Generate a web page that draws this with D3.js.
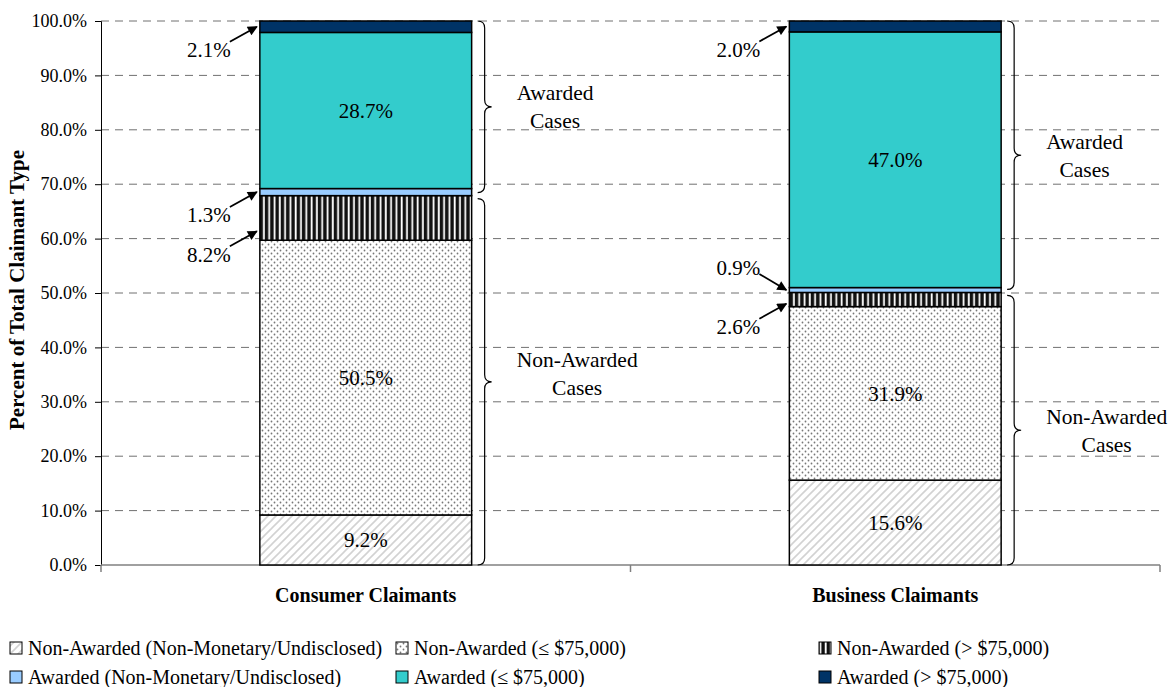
<!DOCTYPE html>
<html>
<head>
<meta charset="UTF-8">
<script src="https://cdn.jsdelivr.net/npm/d3@7"></script>
<style>
  body { margin: 0; background: #fff; }
  svg text { font-family: "Liberation Serif", "Times New Roman", serif; fill: #000; }
</style>
</head>
<body>
<div id="chart"></div>
<script>
// data
var categories = ["Consumer Claimants", "Business Claimants"];
var seriesKeys = ["nonNone", "nonLow", "nonHigh", "awNone", "awLow", "awHigh"];
var seriesNames = [
  "Non-Awarded (Non-Monetary/Undisclosed)",
  "Non-Awarded (\u2264 $75,000)",
  "Non-Awarded (> $75,000)",
  "Awarded (Non-Monetary/Undisclosed)",
  "Awarded (\u2264 $75,000)",
  "Awarded (> $75,000)"
];
var consumerValues = [9.2, 50.5, 8.2, 1.3, 28.7, 2.1];
var businessValues = [15.6, 31.9, 2.6, 0.9, 47.0, 2.0];
var yTicks = [0, 10, 20, 30, 40, 50, 60, 70, 80, 90, 100];
var groupNames = [["Non-Awarded", "Cases"], ["Awarded", "Cases"]];

var width = 1172, height = 687;
var fills = ["url(#diag)", "url(#dots)", "url(#vstripe)", "#99CCFF", "#33CCCC", "#003366"];

var table = categories.map(function(c, i) {
  var row = {cat: c};
  var vals = i == 0 ? consumerValues : businessValues;
  seriesKeys.forEach(function(k, j) { row[k] = vals[j]; });
  return row;
});
var stacked = d3.stack().keys(seriesKeys)(table);

var x = d3.scaleBand().domain(categories).range([101, 1160]).paddingInner(0.6).paddingOuter(0.3);
var y = d3.scaleLinear().domain([0, 100]).range([565, 21]);

var svg = d3.select("#chart").append("svg")
    .attr("width", width)
    .attr("height", height);

var defs = svg.append("defs");

var diag = defs.append("pattern").attr("id", "diag").attr("patternUnits", "userSpaceOnUse")
    .attr("width", 8).attr("height", 8);
diag.append("rect").attr("width", 8).attr("height", 8).attr("fill", "#fff");
diag.append("path").attr("d", "M-2,2 L2,-2 M0,8 L8,0 M6,10 L10,6")
    .attr("stroke", "#d2d2d2").attr("stroke-width", 1.6);

var dots = defs.append("pattern").attr("id", "dots").attr("patternUnits", "userSpaceOnUse")
    .attr("width", 6).attr("height", 6);
dots.append("rect").attr("width", 6).attr("height", 6).attr("fill", "#fff");
dots.append("circle").attr("cx", 1.5).attr("cy", 1.5).attr("r", 0.9).attr("fill", "#777");
dots.append("circle").attr("cx", 4.5).attr("cy", 4.5).attr("r", 0.9).attr("fill", "#777");

var vs = defs.append("pattern").attr("id", "vstripe").attr("patternUnits", "userSpaceOnUse")
    .attr("width", 5.3).attr("height", 10);
vs.append("rect").attr("width", 5.3).attr("height", 10).attr("fill", "#111");
vs.append("rect").attr("x", 3.3).attr("width", 1.8).attr("height", 10).attr("fill", "#fff");

var marker = defs.append("marker").attr("id", "arrow")
    .attr("viewBox", "0 0 10 10").attr("refX", 9).attr("refY", 5)
    .attr("markerWidth", 6.5).attr("markerHeight", 5.5).attr("markerUnits", "strokeWidth")
    .attr("orient", "auto");
marker.append("path").attr("d", "M0,0 L10,5 L0,10 Z").attr("fill", "#000");

// gridlines
svg.append("g").selectAll("line")
  .data(yTicks.filter(function(t) { return t > 0; }))
  .enter().append("line")
    .attr("x1", 101).attr("x2", 1160)
    .attr("y1", function(d) { return y(d); })
    .attr("y2", function(d) { return y(d); })
    .attr("stroke", "#707070")
    .attr("stroke-width", 1)
    .attr("stroke-dasharray", "8,6");

// y axis
var yAxis = svg.append("g")
    .attr("transform", "translate(101,0)")
    .call(d3.axisLeft(y).tickValues(yTicks).tickSize(6).tickPadding(8)
      .tickFormat(function(d) { return d3.format(".1f")(d) + "%"; }));
yAxis.select(".domain").attr("stroke", "#000");
yAxis.selectAll(".tick line").attr("stroke", "#000");
yAxis.selectAll("text").attr("font-size", 18).attr("font-family", "Liberation Serif");

// x axis
svg.append("line").attr("x1", 101).attr("x2", 1160).attr("y1", 565).attr("y2", 565)
    .attr("stroke", "#808080").attr("stroke-width", 1.5);
var bounds = [x.range()[0], (x(categories[0]) + x(categories[1]) + x.bandwidth()) / 2, x.range()[1]];
svg.append("g").selectAll("line").data(bounds).enter().append("line")
    .attr("x1", function(d) { return d; }).attr("x2", function(d) { return d; })
    .attr("y1", 565).attr("y2", 572)
    .attr("stroke", "#808080").attr("stroke-width", 1.5);

svg.append("g").selectAll("text").data(categories).enter().append("text")
    .attr("x", function(d) { return x(d) + x.bandwidth() / 2; })
    .attr("y", 602)
    .attr("text-anchor", "middle")
    .attr("font-size", 20)
    .attr("font-weight", "bold")
    .text(function(d) { return d; });

svg.append("text")
    .attr("transform", "translate(24,290) rotate(-90)")
    .attr("text-anchor", "middle")
    .attr("font-size", 21)
    .attr("font-weight", "bold")
    .text("Percent of Total Claimant Type");

// bars
var layers = svg.append("g").selectAll("g").data(stacked).enter().append("g")
    .attr("fill", function(d, i) { return fills[i]; });
layers.selectAll("rect").data(function(d) { return d; }).enter().append("rect")
    .attr("x", function(d) { return x(d.data.cat); })
    .attr("y", function(d) { return y(d[1]); })
    .attr("width", x.bandwidth())
    .attr("height", function(d) { return y(d[0]) - y(d[1]); })
    .attr("stroke", "#000")
    .attr("stroke-width", 1.5);

// labels inside big segments, arrows for small ones
var lbl = svg.append("g");
stacked.forEach(function(layer, si) {
  layer.forEach(function(d) {
    var v = d[1] - d[0];
    var left = x(d.data.cat);
    var txt = d3.format(".1f")(v) + "%";
    if (v >= 9) {
      lbl.append("text")
        .attr("x", left + x.bandwidth() / 2)
        .attr("y", y((d[0] + d[1]) / 2))
        .attr("dy", "0.35em")
        .attr("text-anchor", "middle")
        .attr("font-size", 21)
        .text(txt);
    } else {
      var frac = v > 2.2 ? 0.2 : 0.5;
      var hy = y(d[0] + v * frac);
      var down = (d.data.cat == categories[1] && seriesKeys[si] == "awNone");
      var ty = down ? hy - 22 : hy + 23;
      var tx = left - 29;
      lbl.append("line")
        .attr("x1", left - 30).attr("y1", down ? ty + 6 : ty - 8)
        .attr("x2", left - 3).attr("y2", hy)
        .attr("stroke", "#000").attr("stroke-width", 1.8)
        .attr("marker-end", "url(#arrow)");
      lbl.append("text")
        .attr("x", tx).attr("y", ty)
        .attr("dy", "0.35em")
        .attr("text-anchor", "end")
        .attr("font-size", 21)
        .text(txt);
    }
  });
});

// braces
function brace(x0, y0, y1) {
  var xm = x0 + 7, xt = x0 + 14, r = 7;
  var mid = (y0 + y1) / 2;
  return "M" + x0 + "," + y0 +
    " Q" + xm + "," + y0 + " " + xm + "," + (y0 + r) +
    " L" + xm + "," + (mid - r) +
    " Q" + xm + "," + mid + " " + xt + "," + mid +
    " Q" + xm + "," + mid + " " + xm + "," + (mid + r) +
    " L" + xm + "," + (y1 - r) +
    " Q" + xm + "," + y1 + " " + x0 + "," + y1;
}
var br = svg.append("g");
categories.forEach(function(c, ci) {
  var right = x(c) + x.bandwidth();
  var groups = [[0, 2], [3, 5]];
  groups.forEach(function(g, gi) {
    var lo = stacked[g[0]][ci][0];
    var hi = stacked[g[1]][ci][1];
    var ya = y(hi) + (gi == 0 ? 3 : 0), yb = y(lo) - (gi == 1 ? 3 : 0);
    br.append("path").attr("d", brace(right + 6, ya, yb))
      .attr("fill", "none").attr("stroke", "#000").attr("stroke-width", 1.2);
    var mid = (ya + yb) / 2;
    var up = (ci == 0 && gi == 0) ? 22 : 14;
    var t1 = br.append("text").attr("x", right + 45).attr("y", mid - up).attr("dy", "0.35em")
      .attr("font-size", 21.5).text(groupNames[gi][0]);
    var w = t1.node().getComputedTextLength();
    br.append("text").attr("x", right + 45 + w / 2).attr("y", mid - up + 28).attr("dy", "0.35em")
      .attr("text-anchor", "middle").attr("font-size", 21.5).text(groupNames[gi][1]);
  });
});

// legend
var colX = [10, 396, 819];
var rowY = [648, 677];
var leg = svg.append("g");
seriesNames.forEach(function(name, i) {
  var cx = colX[i % 3], cy = rowY[Math.floor(i / 3)];
  leg.append("rect").attr("x", cx).attr("y", cy - 6).attr("width", 12).attr("height", 12)
    .attr("fill", fills[i]).attr("stroke", "#000").attr("stroke-width", 1);
  leg.append("text").attr("x", cx + 18).attr("y", cy).attr("dy", "0.33em")
    .attr("font-size", 20).text(name);
});
</script>
</body>
</html>
